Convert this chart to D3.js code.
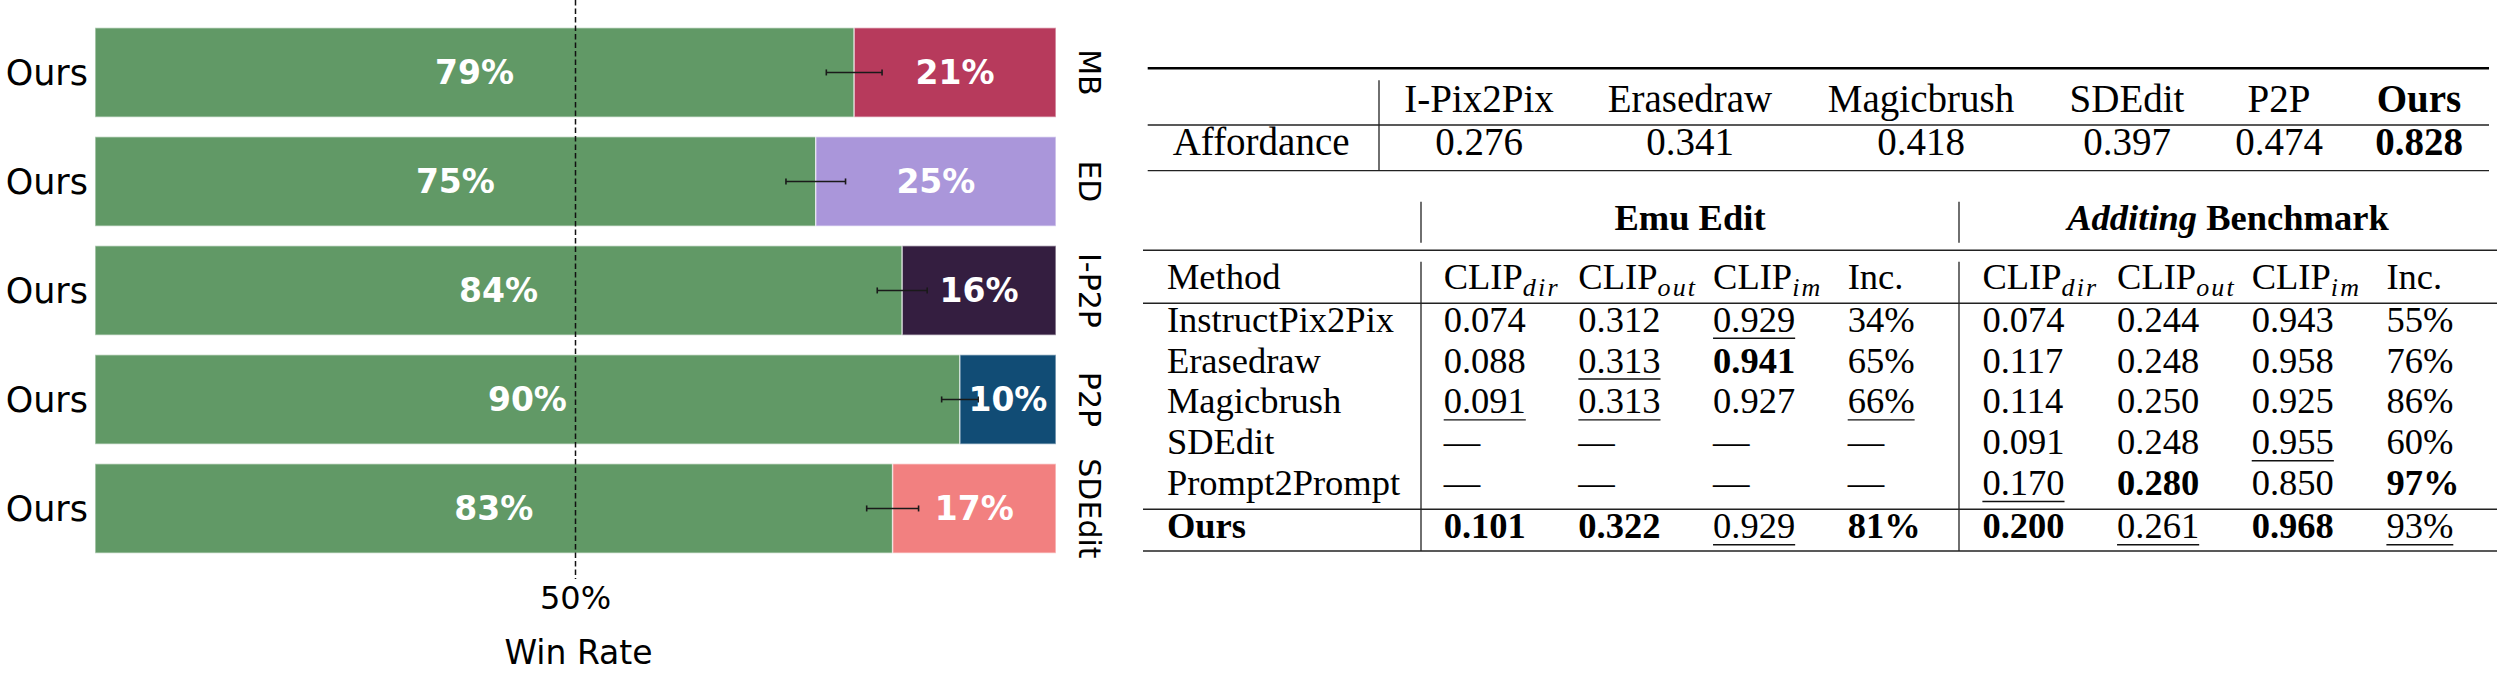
<!DOCTYPE html>
<html><head><meta charset="utf-8">
<script src="https://cdn.jsdelivr.net/npm/d3@7"></script>
<style>body{margin:0;background:#fff}</style>
</head><body>
<svg id="c" width="2502" height="683"></svg>
<script>
// ---------- chart data ----------
const categories = ["MB", "ED", "I-P2P", "P2P", "SDEdit"];
const oursWin = [79, 75, 84, 90, 83];
const otherWin = [21, 25, 16, 10, 17];
const winErr = [2.9, 3.1, 2.6, 1.9, 2.7];
const otherColors = ["#b73a5c", "#aa96da", "#341e40", "#114c75", "#f28080"];
const oursColor = "#619966";
const oursLabel = "Ours";
const xTicks = [50];
const xTitle = "Win Rate";

// ---------- table 1 data ----------
const affRowLabel = "Affordance";
const affHeaders = ["I-Pix2Pix", "Erasedraw", "Magicbrush", "SDEdit", "P2P", "Ours"];
const affValues = [0.276, 0.341, 0.418, 0.397, 0.474, 0.828];
const affBold = [false, false, false, false, false, true];

// ---------- table 2 data ----------
const groups = ["Emu Edit", "Additing Benchmark"];
const methodHeader = "Method";
const methods = ["InstructPix2Pix", "Erasedraw", "Magicbrush", "SDEdit", "Prompt2Prompt", "Ours"];
const metricNames = ["dir", "out", "im", "Inc."];
const emuDir = [0.074, 0.088, 0.091, null, null, 0.101];
const emuOut = [0.312, 0.313, 0.313, null, null, 0.322];
const emuIm  = [0.929, 0.941, 0.927, null, null, 0.929];
const emuInc = [34, 65, 66, null, null, 81];
const addDir = [0.074, 0.117, 0.114, 0.091, 0.170, 0.200];
const addOut = [0.244, 0.248, 0.250, 0.248, 0.280, 0.261];
const addIm  = [0.943, 0.958, 0.925, 0.955, 0.850, 0.968];
const addInc = [55, 76, 86, 60, 97, 93];
// emphasis: b = bold (best), u = underline (second)
const emuDirEm = ["", "", "u", "", "", "b"];
const emuOutEm = ["", "u", "u", "", "", "b"];
const emuImEm  = ["u", "b", "", "", "", "u"];
const emuIncEm = ["", "", "u", "", "", "b"];
const addDirEm = ["", "", "", "", "u", "b"];
const addOutEm = ["", "", "", "", "b", "u"];
const addImEm  = ["", "", "", "u", "", "b"];
const addIncEm = ["", "", "", "", "b", "u"];

// ---------- drawing ----------
const svg = d3.select("#c");
const sans = "'DejaVu Sans', sans-serif";
const serif = "'Liberation Serif', 'Times New Roman', serif";

const x = d3.scaleLinear().domain([0, 100]).range([95, 1056]);
const y = d3.scaleBand().domain(categories).range([17.95, 562.95])
  .paddingInner(0.1789).paddingOuter(0.0894);

const rows = categories.map((c, i) => ({c, ours: oursWin[i], other: otherWin[i], err: winErr[i], col: otherColors[i]}));
const chart = svg.append("g");

chart.selectAll("rect.ours").data(rows).join("rect")
  .attr("x", x(0)).attr("y", d => y(d.c))
  .attr("width", d => x(d.ours) - x(0)).attr("height", y.bandwidth())
  .attr("fill", oursColor).attr("stroke", "#ffffff").attr("stroke-opacity", 0.55).attr("stroke-width", 1.5);
chart.selectAll("rect.other").data(rows).join("rect")
  .attr("x", d => x(d.ours)).attr("y", d => y(d.c))
  .attr("width", d => x(100) - x(d.ours)).attr("height", y.bandwidth())
  .attr("fill", d => d.col).attr("stroke", "#ffffff").attr("stroke-opacity", 0.55).attr("stroke-width", 1.5);

// segment labels
chart.selectAll("text.lo").data(rows).join("text")
  .attr("x", d => x(d.ours / 2)).attr("y", d => y(d.c) + y.bandwidth() / 2 + 12)
  .attr("text-anchor", "middle").attr("fill", "#fff").attr("font-family", sans)
  .attr("font-weight", "bold").attr("font-size", 33).text(d => d.ours + "%");
chart.selectAll("text.lt").data(rows).join("text")
  .attr("x", d => x(d.ours + d.other / 2)).attr("y", d => y(d.c) + y.bandwidth() / 2 + 12)
  .attr("text-anchor", "middle").attr("fill", "#fff").attr("font-family", sans)
  .attr("font-weight", "bold").attr("font-size", 33).text(d => d.other + "%");

// error bars
const eb = chart.selectAll("g.eb").data(rows).join("g")
  .attr("transform", d => `translate(0,${y(d.c) + y.bandwidth() / 2})`);
eb.append("line").attr("x1", d => x(d.ours - d.err)).attr("x2", d => x(d.ours + d.err))
  .attr("stroke", "#1a1a1a").attr("stroke-width", 1.6);
eb.append("line").attr("x1", d => x(d.ours - d.err)).attr("x2", d => x(d.ours - d.err))
  .attr("y1", -3).attr("y2", 3).attr("stroke", "#1a1a1a").attr("stroke-width", 1.6);
eb.append("line").attr("x1", d => x(d.ours + d.err)).attr("x2", d => x(d.ours + d.err))
  .attr("y1", -3).attr("y2", 3).attr("stroke", "#1a1a1a").attr("stroke-width", 1.6);

// dashed reference line
chart.selectAll("line.ref").data(xTicks).join("line")
  .attr("x1", d => x(d)).attr("x2", d => x(d)).attr("y1", 0).attr("y2", 579)
  .attr("stroke", "#111").attr("stroke-width", 1.5).attr("stroke-dasharray", "5.5,3");

// left labels
chart.selectAll("text.ol").data(rows).join("text")
  .attr("x", 88).attr("y", d => y(d.c) + y.bandwidth() / 2 + 13)
  .attr("text-anchor", "end").attr("font-family", sans).attr("font-size", 35).attr("fill", "#000")
  .text(oursLabel);
// right labels (rotated)
chart.selectAll("text.rl").data(rows).join("text")
  .attr("transform", d => `translate(1079,${y(d.c) + y.bandwidth() / 2}) rotate(90)`)
  .attr("text-anchor", "middle").attr("font-family", sans).attr("font-size", 30).attr("fill", "#000")
  .text(d => d.c);

// x tick + title
chart.selectAll("text.tick").data(xTicks).join("text")
  .attr("x", d => x(d)).attr("y", 609).attr("text-anchor", "middle")
  .attr("font-family", sans).attr("font-size", 32).text(d => d + "%");
chart.append("text").attr("x", (x(0) + x(100)) / 2 + 3).attr("y", 664).attr("text-anchor", "middle")
  .attr("font-family", sans).attr("font-size", 33).text(xTitle);

// ---------- tables ----------
const t = svg.append("g").attr("font-family", serif).attr("fill", "#000");
function hline(x1, x2, yy, w, col) {
  t.append("line").attr("x1", x1).attr("x2", x2).attr("y1", yy).attr("y2", yy)
    .attr("stroke", col || "#222").attr("stroke-width", w);
}
function vline(xx, y1, y2) {
  t.append("line").attr("x1", xx).attr("x2", xx).attr("y1", y1).attr("y2", y2)
    .attr("stroke", "#222").attr("stroke-width", 1.3);
}
function cell(txt, xx, yy, size, opts) {
  opts = opts || {};
  const el = t.append("text").attr("x", xx).attr("y", yy).attr("font-size", size)
    .attr("text-anchor", opts.anchor || "start")
    .attr("font-weight", opts.bold ? "bold" : "normal").text(txt);
  if (opts.underline) {
    const w = el.node().getComputedTextLength();
    const x0 = opts.anchor === "middle" ? xx - w / 2 : xx;
    hline(x0, x0 + w, yy + 6.5, 1.4, "#111");
  }
  return el;
}

// table 1
const t1 = {left: 1147.7, right: 2489, top: 68.3, mid: 125, bottom: 170.7, vx: 1379,
  headY: 111.7, valY: 155, labelX: 1172.7, size: 39,
  colX: [1479, 1690, 1921, 2127, 2279, 2419]};
hline(t1.left, t1.right, t1.top, 2.6, "#000");
hline(t1.left, t1.right, t1.mid, 1.3);
hline(t1.left, t1.right, t1.bottom, 1.3);
vline(t1.vx, t1.top + 12, t1.bottom);
const fmt3 = d3.format(".3f");
affHeaders.forEach((h, i) => cell(h, t1.colX[i], t1.headY, t1.size, {anchor: "middle", bold: affBold[i]}));
cell(affRowLabel, t1.labelX, t1.valY, t1.size);
affValues.forEach((v, i) => cell(fmt3(v), t1.colX[i], t1.valY, t1.size, {anchor: "middle", bold: affBold[i]}));

// table 2
const t2 = {left: 1143, right: 2497, groupY: 230, rule1: 250.3, headY: 289, rule2: 303.3,
  rule3: 509.3, bottom: 551, v1: 1421, v2: 1959, labelX: 1166.9, size: 36.5};
hline(t2.left, t2.right, t2.rule1, 1.4);
hline(t2.left, t2.right, t2.rule2, 1.4);
hline(t2.left, t2.right, t2.rule3, 1.4);
hline(t2.left, t2.right, t2.bottom, 1.4);
[t2.v1, t2.v2].forEach(vx => { vline(vx, 201.7, 242.7); vline(vx, 261.7, t2.bottom); });

const colKeys = d3.range(8);
const cx = d3.scalePoint().domain(colKeys).range([1443.7, 2386.4]);
const ry = d3.scalePoint().domain(methods.slice(0, 5)).range([331.7, 495]);
const rowY = m => m === "Ours" ? 538.3 : ry(m);

// group headers
cell(groups[0], (t2.v1 + t2.v2) / 2, t2.groupY, t2.size, {anchor: "middle", bold: true});
const gparts = groups[1].split(" ");
const g2 = t.append("text").attr("x", (t2.v2 + t2.right) / 2).attr("y", t2.groupY)
  .attr("font-size", t2.size).attr("text-anchor", "middle").attr("font-weight", "bold");
g2.append("tspan").attr("font-style", "italic").text(gparts[0]);
g2.append("tspan").text(" " + gparts.slice(1).join(" "));

// column headers
cell(methodHeader, t2.labelX, t2.headY, t2.size);
colKeys.forEach(k => {
  const name = metricNames[k % 4];
  if (name === "Inc.") { cell(name, cx(k), t2.headY, t2.size); return; }
  const el = t.append("text").attr("x", cx(k)).attr("y", t2.headY).attr("font-size", t2.size);
  el.append("tspan").text("CLIP");
  el.append("tspan").attr("font-style", "italic").attr("font-size", 26).attr("dy", 7)
    .attr("letter-spacing", 2.2).text(name);
});

// body
const cols = [emuDir, emuOut, emuIm, emuInc, addDir, addOut, addIm, addInc];
const ems = [emuDirEm, emuOutEm, emuImEm, emuIncEm, addDirEm, addOutEm, addImEm, addIncEm];
methods.forEach((m, r) => {
  cell(m, t2.labelX, rowY(m), t2.size, {bold: m === "Ours"});
  cols.forEach((col, k) => {
    const v = col[r];
    const isInc = k % 4 === 3;
    const txt = v == null ? "\u2014" : (isInc ? v + "%" : fmt3(v));
    cell(txt, cx(k), rowY(m), t2.size, {bold: ems[k][r] === "b", underline: ems[k][r] === "u"});
  });
});
</script>
</body></html>
